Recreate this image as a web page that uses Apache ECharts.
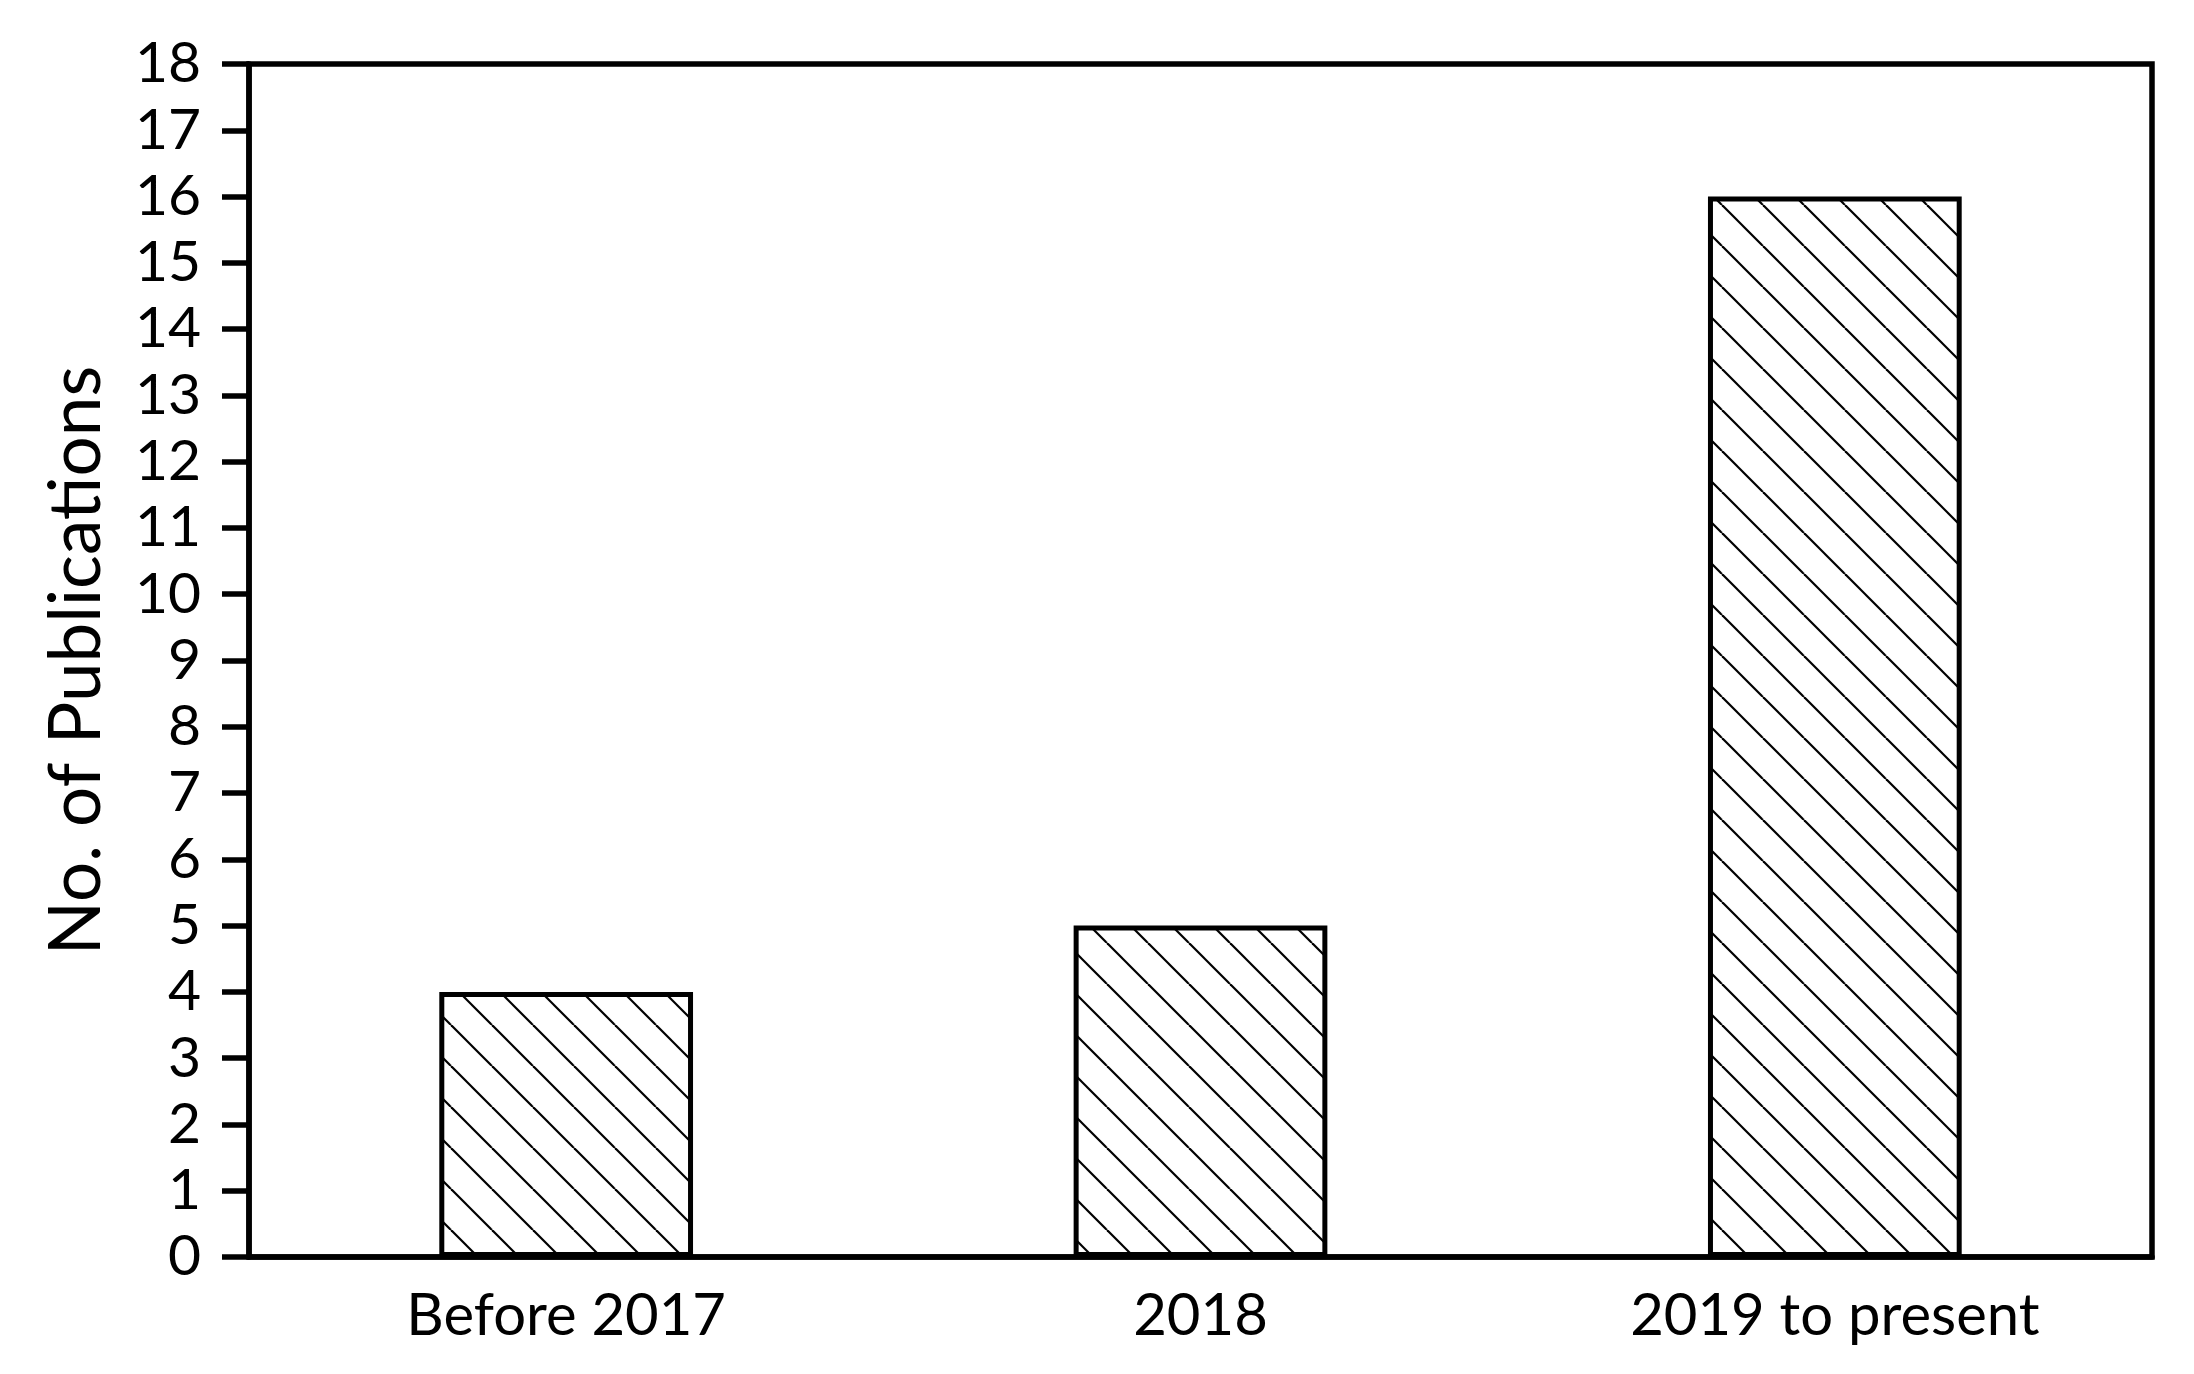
<!DOCTYPE html>
<html>
<head>
<meta charset="utf-8">
<script src="https://cdn.jsdelivr.net/npm/echarts@6/dist/echarts.min.js"></script>
<style>
  html,body{margin:0;padding:0;background:#fff;}
  #chart{width:2194px;height:1374px;}
</style>
</head>
<body>
<div id="chart"></div>
<script>
const categories = ["Before 2017", "2018", "2019 to present"];
const publications = [4, 5, 16];
const yTicks = [0, 18, 1]; // min, max, interval

// hatch "\\\" like the original figure
function hatchPattern(){
  const size = 41;
  const c = document.createElement("canvas");
  c.width = size; c.height = size;
  const ctx = c.getContext("2d");
  ctx.fillStyle = "#fff";
  ctx.fillRect(0,0,size,size);
  ctx.strokeStyle = "#000";
  ctx.lineWidth = 2.2;
  [-size, 0, size].forEach(off=>{
    ctx.beginPath();
    ctx.moveTo(off, 0);
    ctx.lineTo(off+size, size);
    ctx.stroke();
  });
  return c;
}

const chart = echarts.init(document.getElementById("chart"));
const font = "Lato";

chart.setOption({
  backgroundColor:"#fff",
  animation:false,
  grid:{
    left:249, right:42, top:64, bottom:117,
    show:true, borderColor:"#000", borderWidth:5.5,
    containLabel:false
  },
  xAxis:{
    type:"category",
    data:categories,
    axisLine:{show:true, lineStyle:{color:"#000", width:5.5}},
    axisTick:{show:false},
    axisLabel:{color:"#000", fontFamily:font, fontSize:58, margin:30},
    splitLine:{show:false}
  },
  yAxis:{
    type:"value",
    min:yTicks[0], max:yTicks[1], interval:yTicks[2],
    name:"No. of Publications",
    nameLocation:"middle",
    nameGap:136,
    nameTextStyle:{color:"#000", fontFamily:font, fontSize:71},
    axisLine:{show:true, lineStyle:{color:"#000", width:5.5}},
    axisTick:{show:true, inside:false, length:27, lineStyle:{color:"#000", width:5.5}},
    axisLabel:{color:"#000", fontFamily:font, fontSize:57, margin:48},
    splitLine:{show:false}
  },
  series:[{
    type:"bar",
    data:publications,
    barWidth:"40%",
    itemStyle:{
      color:{image:hatchPattern(), repeat:"repeat"},
      borderColor:"#000",
      borderWidth:5
    }
  }]
});
</script>
</body>
</html>
